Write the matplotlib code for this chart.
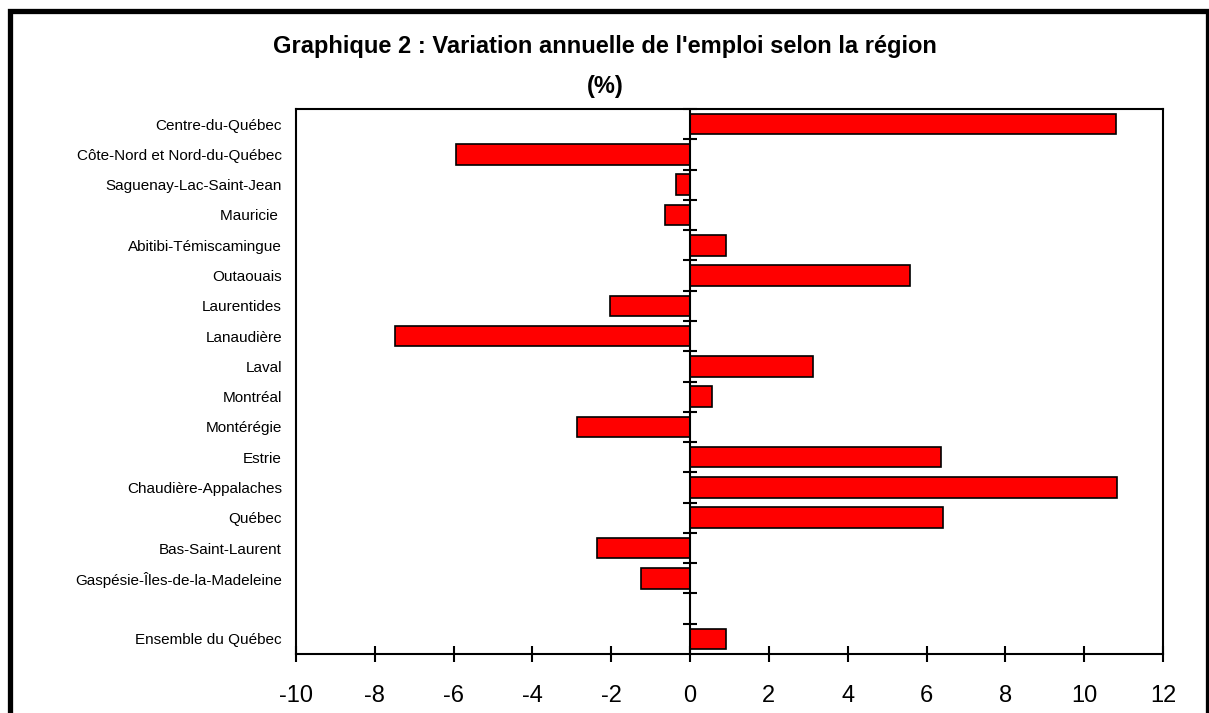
import matplotlib
matplotlib.use("Agg")
import matplotlib.pyplot as plt
import matplotlib.patches as mpatches
import numpy as np

plt.rcParams['font.family'] = ['Liberation Sans', 'DejaVu Sans']

regions = ["Centre-du-Québec", "Côte-Nord et Nord-du-Québec", "Saguenay-Lac-Saint-Jean",
           "Mauricie ", "Abitibi-Témiscamingue", "Outaouais", "Laurentides", "Lanaudière",
           "Laval", "Montréal", "Montérégie", "Estrie", "Chaudière-Appalaches", "Québec",
           "Bas-Saint-Laurent", "Gaspésie-Îles-de-la-Madeleine"]
variation = [10.8, -5.94, -0.35, -0.63, 0.9, 5.59, -2.04, -7.5,
             3.13, 0.56, -2.87, 6.37, 10.84, 6.43, -2.36, -1.24]
total_label = "Ensemble du Québec"
total_value = 0.9
xticks = [-10, -8, -6, -4, -2, 0, 2, 4, 6, 8, 10, 12]

labels = regions + [total_label]
values = variation + [total_value]
ypos = list(range(len(regions))) + [len(regions) + 1]

fig = plt.figure(figsize=(12.09, 7.13), dpi=100)
ax = fig.add_axes([296 / 1209, 1 - 654 / 713, (1163 - 296) / 1209, (654 - 109) / 713])

ax.barh(ypos, values, height=0.68, color='#ff0000', edgecolor='black', linewidth=1.2, zorder=2)

ax.set_xlim(-10, 12)
ax.set_ylim(len(regions) + 1.5, -0.5)
ax.set_xticks(xticks)
ax.set_xticklabels([str(t) for t in xticks], fontsize=17)
ax.tick_params(axis='x', direction='inout', length=12, width=1.5, pad=16)

ax.set_yticks(ypos)
ax.set_yticklabels(labels, fontsize=11)
ax.tick_params(axis='y', length=0, pad=10)

for s in ax.spines.values():
    s.set_linewidth(1.5)

# zero line with its small cross ticks at the slot boundaries
ax.axvline(0, color='black', linewidth=1.5, zorder=3)
bounds = np.arange(-0.5, len(regions) + 1.5, 1.0)
ax.plot(np.zeros_like(bounds), bounds, linestyle='none', marker='_', markersize=10,
        markeredgewidth=1.5, color='black', zorder=3, clip_on=False)

fig.text(605 / 1209, 1 - 46 / 713, "Graphique 2 : Variation annuelle de l'emploi selon la région",
         ha='center', va='center', fontsize=17, fontweight='bold')
fig.text(605 / 1209, 1 - 87 / 713, "(%)", ha='center', va='center', fontsize=17, fontweight='bold')

# outer frame
fig.patches.append(mpatches.Rectangle((10 / 1209, -0.05), (1208 - 10) / 1209, 1.05 - 11.5 / 713,
                                      transform=fig.transFigure, fill=False,
                                      edgecolor='black', linewidth=3.8))

fig.savefig("out.png", dpi=100)
